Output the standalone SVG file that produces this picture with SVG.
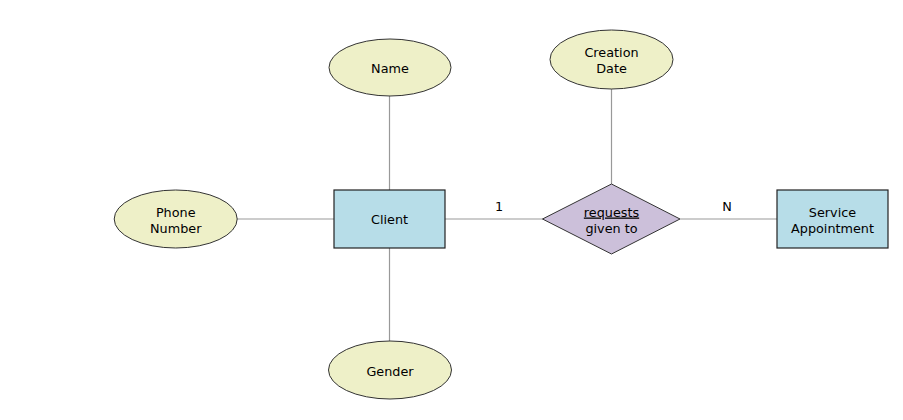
<svg xmlns="http://www.w3.org/2000/svg" width="903" height="420" viewBox="0 0 903 420">
<style>
text{font-family:"DejaVu Sans",Verdana,sans-serif;font-size:12.8px;fill:#000;text-anchor:middle}
.attr{fill:#eef0c8;stroke:#333;stroke-width:1}
.ent{fill:#b7dde8;stroke:#222;stroke-width:1.2}
.rel{fill:#ccc0da;stroke:#333;stroke-width:1}
.conn line{stroke:#999;stroke-width:1.2}
</style>
<rect width="903" height="420" fill="#fff"/>
<g class="conn" id="connectors">
<line x1="389.5" y1="96" x2="389.5" y2="190"/>
<line x1="389.5" y1="248" x2="389.5" y2="341"/>
<line x1="237" y1="219" x2="334" y2="219"/>
<line x1="445" y1="219" x2="543" y2="219"/>
<line x1="680" y1="219" x2="777" y2="219"/>
<line x1="611.5" y1="89" x2="611.5" y2="184"/>
<text x="499" y="211">1</text>
<text x="727" y="211">N</text>
</g>
<g id="name"><ellipse class="attr" cx="390" cy="67.5" rx="61" ry="28.5"/><text x="390" y="72.5">Name</text></g>
<g id="creation-date"><ellipse class="attr" cx="611.5" cy="59.5" rx="61.5" ry="29.5"/><text x="611.5" y="56.5">Creation</text><text x="611.5" y="73">Date</text></g>
<g id="phone-number"><ellipse class="attr" cx="175.7" cy="219" rx="61.5" ry="29"/><text x="175.7" y="216.5">Phone</text><text x="175.7" y="233">Number</text></g>
<g id="gender"><ellipse class="attr" cx="390" cy="370" rx="61.5" ry="29"/><text x="390" y="376">Gender</text></g>
<g id="client"><rect class="ent" x="334" y="190" width="111" height="58"/><text x="389.5" y="224">Client</text></g>
<g id="requests"><polygon class="rel" points="542.5,219 611.5,184 680,219 611.5,254"/><text x="611.5" y="216.5" text-decoration="underline">requests</text><text x="611.5" y="233">given to</text></g>
<g id="service-appointment"><rect class="ent" x="777" y="190" width="111" height="58"/><text x="832.5" y="216.5">Service</text><text x="832.5" y="233">Appointment</text></g>
</svg>
